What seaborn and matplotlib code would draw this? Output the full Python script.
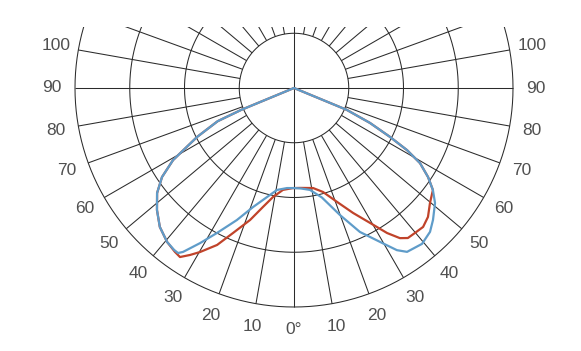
import numpy as np
import matplotlib
matplotlib.use("Agg")
import matplotlib.pyplot as plt
import seaborn as sns
import pandas as pd
from matplotlib.patches import Rectangle

sns.set_theme(style="white")
plt.rcParams['font.family'] = ['Liberation Sans', 'DejaVu Sans']

# ---- data (angle in degrees, 0 = straight down, positive = right; relative intensity, 1 = outer circle)
label_angles = [100, 90, 80, 70, 60, 50, 40, 30, 20, 10]
label_texts = ["100", "90", "80", "70", "60", "50", "40", "30", "20", "10"]
zero_label = "0°"

blue_angles = [-67.5, -67.5, -66.5, -63.2, -59.2, -56.0, -52.5, -48.3, -44.0, -39.5, -36.5,
               -35.1, -34.1, -31.2, -28.0, -23.4, -19.0, -13.9, -9.5, -4.0, 0.6, 4.0,
               8.9, 14.3, 19.9, 24.6, 29.2, 32.4, 34.6, 39.4, 43.4, 46.5, 50.8, 53.7,
               56.4, 59.2, 61.2, 63.0, 65.3, 67.5, 67.5]
blue_values = [0.0, 0.26, 0.38, 0.496, 0.643, 0.727, 0.788, 0.838, 0.882, 0.911, 0.920,
               0.921, 0.904, 0.828, 0.750, 0.657, 0.575, 0.513, 0.472, 0.458, 0.457, 0.460,
               0.471, 0.516, 0.617, 0.723, 0.805, 0.877, 0.909, 0.921, 0.904, 0.875, 0.831, 0.787,
               0.735, 0.670, 0.589, 0.492, 0.382, 0.26, 0.0]

red_angles = [-67.5, -67.5, -66.5, -63.2, -59.2, -56.0, -52.5, -48.3, -44.0, -39.5, -36.0,
              -34.0, -31.9, -29.8, -26.1, -22.8, -18.4, -14.6, -10.9, -6.2, -0.6, 3.4,
              10.8, 15.6, 20.7, 25.3, 29.4, 32.7, 35.2, 37.2, 39.8, 42.9, 46.1, 49.8,
              53.7, 56.4, 59.2, 61.2, 63.0, 65.3, 67.5, 67.5]
red_values = [0.0, 0.26, 0.38, 0.496, 0.643, 0.727, 0.788, 0.838, 0.882, 0.911, 0.925,
              0.931, 0.898, 0.863, 0.798, 0.718, 0.635, 0.561, 0.507, 0.468, 0.457, 0.457,
              0.465, 0.493, 0.556, 0.631, 0.707, 0.787, 0.839, 0.860, 0.862, 0.866, 0.849, 0.813,
              0.787, 0.735, 0.670, 0.589, 0.492, 0.382, 0.26, 0.0]

ring_values = [0.25, 0.5, 0.75, 1.0]

# ---- figure
W, H = 581, 351
fig = plt.figure(figsize=(W / 100, H / 100), dpi=100)
cx, cy, R = 294, 88, 219  # pixel center (from top) and outer radius
ax = fig.add_axes([(cx - R) / W, (H - cy - R) / H, 2 * R / W, 2 * R / H], projection='polar')
ax.set_theta_zero_location('S')
ax.set_theta_direction(1)
ax.set_ylim(0, 1)
ax.set_axis_off()

clip = Rectangle((0, 0), 1, 1 - 27 / H, transform=fig.transFigure)

grid_kw = dict(color='#2b2b2b', lw=0.75, solid_capstyle='butt')
lines = []
full = np.linspace(0, 2 * np.pi, 721)
for rv in ring_values:
    lines += ax.plot(full, np.full_like(full, rv), **grid_kw)
for a in range(0, 360, 10):
    t = np.deg2rad(a)
    r0 = 0.0 if a % 90 == 0 else ring_values[0]
    lines += ax.plot([t, t], [r0, 1.0], **grid_kw)

df_blue = pd.DataFrame({'theta': np.deg2rad(blue_angles), 'r': blue_values})
df_red = pd.DataFrame({'theta': np.deg2rad(red_angles), 'r': red_values})
sns.lineplot(data=df_red, x='theta', y='r', estimator=None, sort=False,
             color='#c0432a', lw=1.6, ax=ax)
sns.lineplot(data=df_blue, x='theta', y='r', estimator=None, sort=False,
             color='#5f9cc9', lw=1.6, ax=ax)
for ln in ax.get_lines():
    ln.set_clip_path(clip)

txt_kw = dict(ha='center', va='center', fontsize=12.5, color='#505050', clip_on=False)
lr = 1.105
for a, s in zip(label_angles, label_texts):
    ax.text(np.deg2rad(-a), lr, s, **txt_kw)
    ax.text(np.deg2rad(a), lr, s, **txt_kw)
ax.text(0, lr, zero_label, **txt_kw)

fig.savefig("out.png", dpi=100)
